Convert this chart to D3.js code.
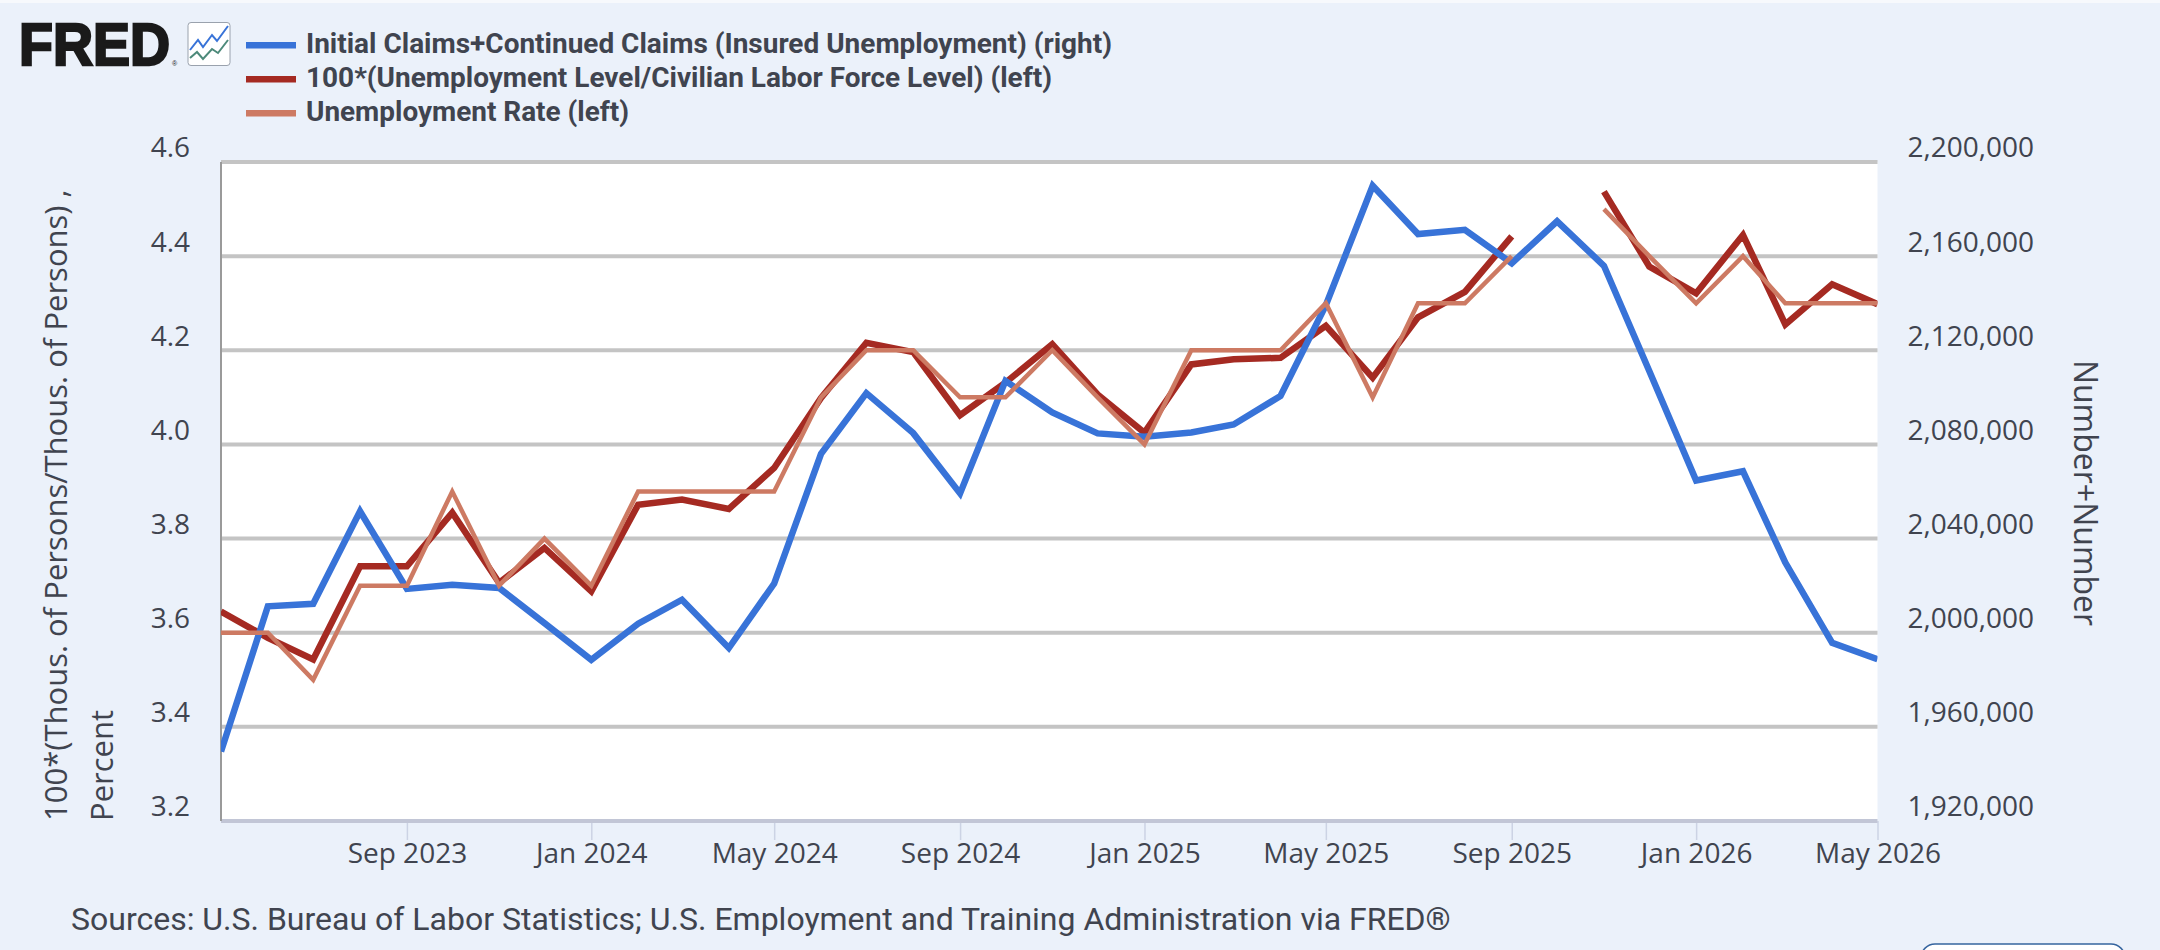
<!DOCTYPE html>
<html>
<head>
<meta charset="utf-8">
<script src="https://cdn.jsdelivr.net/npm/d3@7"></script>
<style>
  html, body { margin: 0; padding: 0; background: #ebf1fa; }
  svg { display: block; }
  .axis text { font-family: "Open Sans", sans-serif; font-size: 28px; fill: #40444f; }
</style>
</head>
<body>
<svg id="chart" width="2160" height="950"></svg>
<script>
// Monthly observations, May 2023 to May 2026
const months = ["2023-05","2023-06","2023-07","2023-08","2023-09","2023-10","2023-11","2023-12",
  "2024-01","2024-02","2024-03","2024-04","2024-05","2024-06","2024-07","2024-08","2024-09","2024-10","2024-11","2024-12",
  "2025-01","2025-02","2025-03","2025-04","2025-05","2025-06","2025-07","2025-08","2025-09","2025-10","2025-11","2025-12",
  "2026-01","2026-02","2026-03","2026-04","2026-05"];

const insuredUnemployment = [1949500,2011200,2012300,2051600,2018600,2020400,2019000,2004100,
  1988500,2003800,2014000,1993500,2020900,2076000,2101800,2084800,2059200,2107000,2093600,2084700,
  2083300,2085100,2088500,2100600,2139200,2189900,2169400,2171200,2157000,2174800,2155900,2111200,
  2064700,2068600,2029800,1995700,1988700];

const laborForceRatio = [3.645,3.589,3.543,3.741,3.741,3.855,3.706,3.78,
  3.688,3.872,3.883,3.863,3.95,4.099,4.216,4.196,4.062,4.131,4.213,4.106,
  4.025,4.17,4.181,4.184,4.252,4.142,4.27,4.324,4.442,null,4.537,4.378,
  4.321,4.445,4.255,4.34,4.298];

const unemploymentRate = [3.6,3.6,3.5,3.7,3.7,3.9,3.7,3.8,
  3.7,3.9,3.9,3.9,3.9,4.1,4.2,4.2,4.1,4.1,4.2,4.1,
  4.0,4.2,4.2,4.2,4.3,4.1,4.3,4.3,4.4,null,4.5,4.4,
  4.3,4.4,4.3,4.3,4.3];

const leftTicks = [3.2,3.4,3.6,3.8,4.0,4.2,4.4,4.6];
const rightTicks = [1920000,1960000,2000000,2040000,2080000,2120000,2160000,2200000];
const dateTicks = ["2023-09","2024-01","2024-05","2024-09","2025-01","2025-05","2025-09","2026-01","2026-05"];

const legendLabels = ["Initial Claims+Continued Claims (Insured Unemployment) (right)",
  "100*(Unemployment Level/Civilian Labor Force Level) (left)",
  "Unemployment Rate (left)"];
const leftTitle = ["100*(Thous. of Persons/Thous. of Persons) ,", "Percent"];
const rightTitle = "Number+Number";
const sourceNote = "Sources: U.S. Bureau of Labor Statistics; U.S. Employment and Training Administration via FRED®";

const BLUE = "#3873d8", DARK = "#a52a22", LIGHT = "#cd7a63", INK = "#40444f";

const parse = d3.utcParse("%Y-%m");
const dates = months.map(parse);

const plot = { left: 221, right: 1877.5, top: 162, bottom: 821 };
const svg = d3.select("#chart");

svg.append("rect").attr("width", 2160).attr("height", 3).attr("fill", "#f7f9fc");
svg.append("rect").attr("x", plot.left).attr("y", plot.top)
  .attr("width", plot.right - plot.left).attr("height", plot.bottom - plot.top).attr("fill", "#fff");

const x = d3.scaleUtc().domain([dates[0], dates[dates.length - 1]]).range([plot.left, plot.right]);
const yLeft = d3.scaleLinear().domain([3.2, 4.6]).range([plot.bottom, plot.top]);
const yRight = d3.scaleLinear().domain([1920000, 2200000]).range([plot.bottom, plot.top]);

// Horizontal grid
const grid = svg.append("g").attr("transform", `translate(${plot.left},0)`)
  .call(d3.axisLeft(yLeft).tickValues(leftTicks.slice(1)).tickSize(-(plot.right - plot.left)).tickFormat("").offset(0));
grid.select(".domain").remove();
grid.selectAll("line").attr("stroke", "#c4c4c4").attr("stroke-width", 4);

// Time axis
const axisX = svg.append("g").attr("class", "axis").attr("transform", `translate(0,${plot.bottom})`)
  .call(d3.axisBottom(x).tickValues(dateTicks.map(parse)).tickSize(19).tickPadding(3).tickFormat(d3.utcFormat("%b %Y")));
axisX.select(".domain").remove();
axisX.selectAll("line").attr("stroke", "#ccd3e4").attr("stroke-width", 1.5);
svg.append("line").attr("x1", plot.left).attr("x2", plot.right).attr("y1", plot.bottom).attr("y2", plot.bottom)
  .attr("stroke", "#c2c6d6").attr("stroke-width", 4);
svg.append("line").attr("x1", plot.left).attr("x2", plot.left).attr("y1", plot.top).attr("y2", plot.bottom)
  .attr("stroke", "#9a9a9a").attr("stroke-width", 2);

// Value axes; their labels sit just above the gridline they name
const axisL = svg.append("g").attr("class", "axis").attr("transform", `translate(${plot.left},0)`)
  .call(d3.axisLeft(yLeft).tickValues(leftTicks).tickSize(0).tickPadding(31).tickFormat(d3.format(".1f")));
axisL.select(".domain").remove();
axisL.selectAll("text").attr("dy", "-0.18em");

const axisR = svg.append("g").attr("class", "axis").attr("transform", `translate(${plot.right},0)`)
  .call(d3.axisRight(yRight).tickValues(rightTicks).tickSize(0).tickPadding(30).tickFormat(d3.format(",")));
axisR.select(".domain").remove();
axisR.selectAll("text").attr("dy", "-0.18em");

// Axis titles
const titleFont = '"Open Sans", sans-serif';
leftTitle.forEach((t, i) => {
  svg.append("text").attr("transform", `translate(${[67, 113][i]},${plot.bottom}) rotate(-90)`)
    .attr("font-family", titleFont).attr("font-size", 31).attr("fill", INK).text(t);
});
svg.append("text").attr("transform", "translate(2074,493) rotate(90)").attr("text-anchor", "middle")
  .attr("font-family", titleFont).attr("font-size", 32).attr("fill", INK).text(rightTitle);

// Series
svg.append("clipPath").attr("id", "plot-clip").append("rect")
  .attr("x", plot.left).attr("y", plot.top - 5).attr("width", plot.right - plot.left).attr("height", plot.bottom - plot.top + 10);

const series = [
  { values: laborForceRatio, y: yLeft, color: DARK, width: 6.5 },
  { values: insuredUnemployment, y: yRight, color: BLUE, width: 6.5 },
  { values: unemploymentRate, y: yLeft, color: LIGHT, width: 4.5 }
];
const linesG = svg.append("g").attr("clip-path", "url(#plot-clip)");
series.forEach(s => {
  const line = d3.line().defined((d, i) => s.values[i] !== null)
    .x((d, i) => x(dates[i])).y(d => s.y(d)).curve(d3.curveLinear);
  linesG.append("path").datum(s.values).attr("d", line).attr("fill", "none")
    .attr("stroke", s.color).attr("stroke-width", s.width).attr("stroke-linejoin", "miter");
});

// Legend
const legendColors = [BLUE, DARK, LIGHT];
const legendWidths = [806, 746, 323];
legendLabels.forEach((t, i) => {
  const cy = 45 + i * 34;
  svg.append("rect").attr("x", 246).attr("y", cy - 3).attr("width", 50).attr("height", 6.5).attr("fill", legendColors[i]);
  svg.append("text").attr("x", 306).attr("y", cy + 8).attr("font-family", "Roboto, sans-serif")
    .attr("font-weight", 700).attr("font-size", 28).attr("fill", INK)
    .attr("textLength", legendWidths[i]).attr("lengthAdjust", "spacingAndGlyphs").text(t);
});

// Wordmark and its small chart icon
svg.append("text").attr("transform", "translate(19,64.5) scale(0.925,1)").attr("font-family", '"Liberation Sans", sans-serif')
  .attr("font-weight", 700).attr("font-size", 60).attr("fill", "#1a1a1a").attr("stroke", "#1a1a1a").attr("stroke-width", 2.5)
  .text("FRED");
svg.append("text").attr("x", 172).attr("y", 66).attr("font-family", '"Liberation Sans", sans-serif')
  .attr("font-size", 7).attr("fill", "#1a1a1a").text("®");
svg.append("rect").attr("x", 188).attr("y", 22.5).attr("width", 42).attr("height", 43).attr("rx", 3)
  .attr("fill", "#fff").attr("stroke", "#9aa2ad").attr("stroke-width", 1);
const iconLine = d3.line();
svg.append("path").attr("d", iconLine([[190, 50], [198, 40], [203, 47], [212, 35], [217, 41], [228, 26]]))
  .attr("fill", "none").attr("stroke", "#3873d8").attr("stroke-width", 2);
svg.append("path").attr("d", iconLine([[190, 58], [197, 52], [203, 59], [212, 49], [218, 53], [228, 40]]))
  .attr("fill", "none").attr("stroke", "#4d8a7a").attr("stroke-width", 2);

// Source line
svg.append("text").attr("x", 71).attr("y", 930).attr("font-family", "Roboto, sans-serif")
  .attr("font-size", 32).attr("fill", INK).text(sourceNote);

// Edge of the control sitting below the chart
svg.append("rect").attr("x", 1921).attr("y", 944).attr("width", 204).attr("height", 30).attr("rx", 14)
  .attr("fill", "#fff").attr("stroke", "#36659f").attr("stroke-width", 1.5);
</script>
</body>
</html>
